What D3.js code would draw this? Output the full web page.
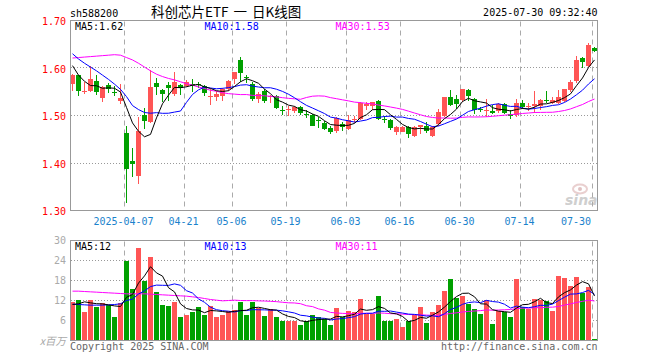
<!DOCTYPE html>
<html><head><meta charset="utf-8">
<script src="https://cdn.jsdelivr.net/npm/d3@7"></script>
<style>body{margin:0;background:#fff;} svg{display:block;}</style>
</head><body><svg id="c" width="660" height="360"></svg>
<script>
const dates = ["03-24","03-25","03-26","03-27","03-28","03-31","04-01","04-02","04-03","04-07",
"04-08","04-09","04-10","04-11","04-14","04-15","04-16","04-17","04-18","04-21",
"04-22","04-23","04-24","04-25","04-28","04-29","04-30","05-06","05-07","05-08",
"05-09","05-12","05-13","05-14","05-15","05-16","05-19","05-20","05-21","05-22",
"05-23","05-26","05-27","05-28","05-29","05-30","06-03","06-04","06-05","06-06",
"06-09","06-10","06-11","06-12","06-13","06-16","06-17","06-18","06-19","06-20",
"06-23","06-24","06-25","06-26","06-27","06-30","07-01","07-02","07-03","07-04",
"07-07","07-08","07-09","07-10","07-11","07-14","07-15","07-16","07-17","07-18",
"07-21","07-22","07-23","07-24","07-25","07-28","07-29","07-30"];
const open = [1.567,1.585,1.550,1.551,1.572,1.537,1.565,1.549,1.530,1.463,
1.405,1.372,1.501,1.487,1.568,1.553,1.564,1.546,1.565,1.562,
1.567,1.567,1.563,1.540,1.539,1.540,1.555,1.576,1.617,1.581,
1.567,1.534,1.551,1.540,1.541,1.511,1.511,1.509,1.517,1.503,
1.501,1.490,1.485,1.473,1.468,1.483,1.472,1.490,1.492,1.520,
1.521,1.531,1.492,1.490,1.466,1.466,1.475,1.456,1.475,1.477,
1.456,1.483,1.500,1.538,1.535,1.532,1.553,1.535,1.513,1.510,
1.510,1.510,1.525,1.504,1.501,1.527,1.517,1.520,1.520,1.532,
1.527,1.527,1.530,1.553,1.573,1.621,1.604,1.642];
const high = [1.587,1.586,1.571,1.605,1.586,1.562,1.569,1.562,1.567,1.478,
1.431,1.497,1.515,1.596,1.578,1.555,1.571,1.591,1.566,1.574,
1.576,1.571,1.565,1.555,1.551,1.558,1.574,1.592,1.623,1.585,
1.570,1.550,1.555,1.544,1.544,1.519,1.520,1.521,1.520,1.512,
1.503,1.497,1.489,1.478,1.496,1.487,1.502,1.500,1.528,1.528,
1.528,1.533,1.500,1.492,1.478,1.477,1.477,1.477,1.480,1.487,
1.477,1.513,1.538,1.554,1.543,1.556,1.555,1.536,1.518,1.535,
1.522,1.527,1.527,1.512,1.534,1.532,1.527,1.551,1.534,1.551,
1.538,1.554,1.556,1.574,1.626,1.623,1.652,1.644];
const low = [1.551,1.541,1.546,1.549,1.544,1.528,1.547,1.541,1.525,1.315,
1.370,1.356,1.472,1.484,1.544,1.528,1.531,1.542,1.544,1.560,
1.550,1.558,1.540,1.523,1.531,1.531,1.551,1.567,1.570,1.569,
1.531,1.527,1.527,1.527,1.513,1.501,1.498,1.506,1.502,1.495,
1.477,1.474,1.470,1.461,1.464,1.468,1.470,1.484,1.490,1.512,
1.512,1.491,1.484,1.470,1.459,1.465,1.453,1.454,1.461,1.464,
1.455,1.478,1.497,1.519,1.513,1.528,1.531,1.504,1.507,1.496,
1.503,1.506,1.503,1.493,1.496,1.514,1.510,1.506,1.512,1.527,
1.524,1.524,1.528,1.549,1.569,1.601,1.603,1.633];
const close = [1.586,1.551,1.551,1.576,1.549,1.560,1.555,1.547,1.536,1.387,
1.397,1.467,1.489,1.561,1.561,1.546,1.557,1.571,1.558,1.570,
1.563,1.564,1.547,1.541,1.546,1.555,1.572,1.592,1.590,1.578,
1.534,1.545,1.531,1.541,1.515,1.509,1.513,1.518,1.506,1.501,
1.478,1.488,1.472,1.466,1.494,1.475,1.490,1.492,1.527,1.524,
1.528,1.493,1.490,1.473,1.475,1.475,1.461,1.475,1.479,1.468,
1.475,1.507,1.538,1.523,1.524,1.555,1.541,1.512,1.511,1.512,
1.506,1.525,1.506,1.499,1.527,1.517,1.519,1.525,1.532,1.530,
1.532,1.539,1.555,1.571,1.617,1.613,1.649,1.635];
const volume = [11.7,12.3,8.7,12.3,10.2,11.4,10.8,7.2,11.4,24.0,
15.6,27.9,18.0,25.2,14.7,10.8,10.5,11.7,7.2,7.8,
8.7,10.2,7.8,10.5,7.2,7.8,9.0,9.3,11.5,7.8,
11.5,9.8,7.5,9.6,7.2,5.8,6.0,5.8,4.8,5.8,
7.8,7.2,6.5,4.8,9.9,7.0,9.0,8.7,12.6,8.0,
8.0,13.5,6.0,5.8,6.6,4.2,5.8,7.8,10.2,5.4,
8.7,10.8,15.0,18.6,12.8,13.5,11.1,9.6,8.1,12.3,
5.1,9.0,8.7,7.2,18.6,10.2,9.6,12.6,12.3,12.0,
9.0,19.5,18.9,16.5,19.2,14.2,16.2,0.6];
// moving-average values before a full window exists inside the view
const ma5Lead = [1.605,1.585,1.572,1.563];
const ma10Lead = [1.630,1.619,1.610,1.602,1.594,1.585,1.576,1.566,1.555];
const ma30Lead = [1.621,1.622,1.623,1.624,1.625,1.626,1.627,1.628,1.627,1.622,
1.617,1.610,1.602,1.594,1.587,1.582,1.578,1.575,1.571,1.567,
1.564,1.560,1.557,1.553,1.551,1.548,1.546,1.545,1.544];
const vma5Lead = [10.8,11.0,11.6,11.3];
const vma10Lead = [10.9,10.8,10.7,10.6,10.6,10.6,10.7,10.8,11.0];
const vma30Lead = [14.8,14.8,14.7,14.6,14.5,14.4,14.3,14.2,14.1,14.0,
14.0,14.0,14.0,13.9,13.8,13.7,13.6,13.5,13.4,13.3,
13.1,12.9,12.6,12.3,12.1,11.9,12.0,12.1,12.0];
const priceTicks = [1.70,1.60,1.50,1.40,1.30];
const volTicks = [30,24,18,12,6];
const tickDates = ["04-07","04-21","05-06","05-19","06-03","06-16","06-30","07-14","07-30"];
const tickLabels = ["2025-04-07","04-21","05-06","05-19","06-03","06-16","06-30","07-14","07-30"];
const priceLegend = ["MA5:1.62","MA10:1.58","MA30:1.53"];
const volLegend = ["MA5:12","MA10:13","MA30:11"];
const maColors = ["#000000","#0000ff","#ff00ff"];

const RED = "#ff5555", GREEN = "#00a000", GRID = "#999999", MONO = "'DejaVu Sans Mono', monospace";
const svg = d3.select("#c");

function movingAvg(vals, n, lead){
  return vals.map((v,i)=> i < n-1 ? lead[i] : d3.mean(vals.slice(i-n+1, i+1)));
}

const x = d3.scaleBand().domain(dates).range([70, 597]).paddingInner(1/6).paddingOuter(0);
const bw = Math.round(x.bandwidth());
const y = d3.scaleLinear().domain([1.30, 1.70]).range([210.5, 20.5]);
const yv = d3.scaleLinear().domain([0, 30]).range([340.5, 240.5]);
const px = d => Math.round(x(d));
const cx = d => px(d) + 2.5;

// header
svg.append("text").attr("x",70).attr("y",17).attr("font-family",MONO).attr("font-size",10).text("sh588200");
const title = svg.append("text").attr("x",151).attr("y",16.8).attr("font-family","'Noto Sans CJK SC', sans-serif").attr("font-size",13.5);
title.append("tspan").text("科创芯片ETF");
title.append("tspan").attr("dx",5).text("一");
title.append("tspan").attr("dx",5).text("日K线图");
svg.append("text").attr("x",597.5).attr("y",16).attr("text-anchor","end").attr("font-family",MONO).attr("font-size",10).text("2025-07-30 09:32:40");

function panel(top, bottom, scale, ticks, gridTicks, labColor, dy){
  const g = svg.append("g");
  g.selectAll(".hg").data(gridTicks).join("line")
    .attr("x1",71).attr("x2",597).attr("y1",d=>Math.floor(scale(d))+0.5).attr("y2",d=>Math.floor(scale(d))+0.5)
    .attr("stroke",GRID).attr("stroke-dasharray","1,2");
  g.selectAll(".vg").data(tickDates).join("line")
    .attr("x1",d=>px(d)+0.5).attr("x2",d=>px(d)+0.5).attr("y1",top+1).attr("y2",bottom)
    .attr("stroke","#aaaaaa").attr("stroke-dasharray","5,4");
  g.selectAll(".yl").data(ticks).join("text")
    .attr("x",66).attr("y",d=>scale(d)+dy).attr("text-anchor","end")
    .attr("font-family",MONO).attr("font-size",10).attr("fill",labColor)
    .text(d=> labColor==="#ff0000" ? d.toFixed(2) : d);
  return g;
}
panel(20.5,210.5,y,priceTicks,[1.60,1.50,1.40],"#ff0000",4.5);
panel(240.5,340.5,yv,volTicks,[24,18,12,6],"#aaaaaa",3.5);

// x-axis labels
svg.append("g").selectAll("text").data(tickDates).join("text")
  .attr("x",(d,i)=> i===tickDates.length-1 ? 591 : px(d)-0.5)
  .attr("y",225).attr("text-anchor",(d,i)=> i===tickDates.length-1 ? "end" : "middle")
  .attr("font-family",MONO).attr("font-size",10).attr("fill","#1a82cc")
  .text((d,i)=>tickLabels[i]);

// sina watermark
const wm = svg.append("g").attr("opacity",0.55);
wm.append("ellipse").attr("cx",580).attr("cy",189).attr("rx",7).attr("ry",4.5).attr("fill","none").attr("stroke","#d8a8a8").attr("stroke-width",2);
wm.append("circle").attr("cx",580).attr("cy",189).attr("r",2).attr("fill","#c89090");
wm.append("text").attr("x",565).attr("y",205).attr("font-family","'DejaVu Sans', sans-serif").attr("font-style","italic").attr("font-weight","bold").attr("font-size",14).attr("fill","#a8a8a8").text("sina");

// candles
const cg = svg.append("g");
dates.forEach((d,i)=>{
  const up = close[i] >= open[i];
  const col = up ? RED : GREEN;
  const yh = Math.round(y(high[i])), yl = Math.round(y(low[i]));
  cg.append("rect").attr("x",px(d)+2).attr("y",yh).attr("width",1).attr("height",Math.max(1,yl-yh)).attr("fill",col);
  const t = Math.round(y(Math.max(open[i],close[i]))), b = Math.round(y(Math.min(open[i],close[i])));
  cg.append("rect").attr("x",px(d)).attr("y",t).attr("width",bw).attr("height",Math.max(1,b-t)).attr("fill",col);
});

// volume bars
svg.append("g").selectAll("rect").data(dates).join("rect")
  .attr("x",d=>px(d)).attr("width",bw)
  .attr("y",(d,i)=>Math.round(yv(volume[i]))).attr("height",(d,i)=>Math.round(340.5)-Math.round(yv(volume[i])))
  .attr("fill",(d,i)=> close[i]>=open[i] ? RED : GREEN);

// frames
svg.append("rect").attr("x",70.5).attr("y",20.5).attr("width",527).attr("height",190).attr("fill","none").attr("stroke",GRID);
svg.append("rect").attr("x",70.5).attr("y",240.5).attr("width",527).attr("height",100).attr("fill","none").attr("stroke",GRID);

// MA lines
const pMAs = [movingAvg(close,5,ma5Lead), movingAvg(close,10,ma10Lead), movingAvg(close,30,ma30Lead)];
const vMAs = [movingAvg(volume,5,vma5Lead), movingAvg(volume,10,vma10Lead), movingAvg(volume,30,vma30Lead)];
const lp = d3.line().x((v,i)=>cx(dates[i])).y(v=>y(v));
const lv = d3.line().x((v,i)=>cx(dates[i])).y(v=>yv(v));
[2,1,0].forEach(k=>{
  svg.append("path").attr("d",lp(pMAs[k])).attr("fill","none").attr("stroke",maColors[k]).attr("stroke-width",1);
  svg.append("path").attr("d",lv(vMAs[k])).attr("fill","none").attr("stroke",maColors[k]).attr("stroke-width",1);
});

// legends
const legX = [75,204.5,335.5];
priceLegend.forEach((t,i)=> svg.append("text").attr("x",legX[i]).attr("y",30).attr("font-family",MONO).attr("font-size",10).attr("fill",maColors[i]).text(t));
volLegend.forEach((t,i)=> svg.append("text").attr("x",legX[i]).attr("y",249.5).attr("font-family",MONO).attr("font-size",10).attr("fill",maColors[i]).text(t));

// footer
svg.append("text").attr("x",66).attr("y",345).attr("text-anchor","end").attr("font-family","'Noto Sans CJK SC', serif").attr("font-style","italic").attr("font-size",10.5).attr("fill","#aaaaaa").text("x百万");
svg.append("text").attr("x",70).attr("y",349.5).attr("font-family",MONO).attr("font-size",10).attr("fill","#666666").text("Copyright 2025 SINA.COM");
svg.append("text").attr("x",597.5).attr("y",349.5).attr("text-anchor","end").attr("font-family",MONO).attr("font-size",10).attr("fill","#666666").text("http://finance.sina.com.cn");
</script>
</body></html>
